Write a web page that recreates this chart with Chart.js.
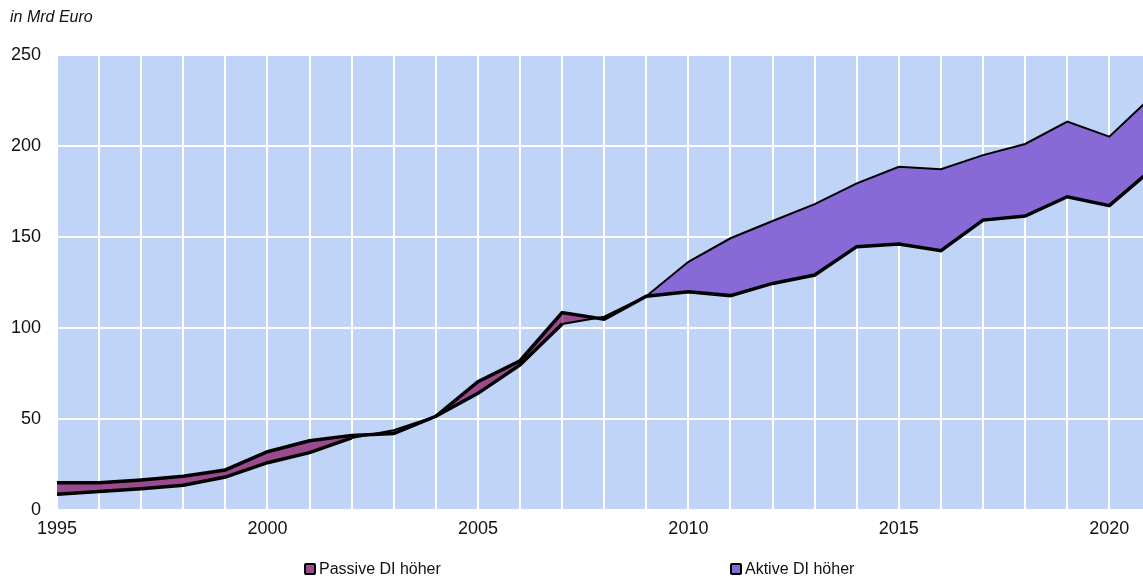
<!DOCTYPE html>
<html>
<head>
<meta charset="utf-8">
<script src="https://cdn.jsdelivr.net/npm/chart.js@4/dist/chart.umd.min.js"></script>
<style>
  body { margin: 0; background: #fff; font-family: "Liberation Sans", Arial, sans-serif; }
  #wrap { position: relative; width: 1143px; height: 578px; }
  #title { position: absolute; left: 10px; top: 8px; font-size: 16px; font-style: italic; color: #111; }
  .leg { position: absolute; top: 560px; font-size: 16px; color: #111; display: flex; align-items: center; }
  .leg span.box { display: inline-block; width: 8px; height: 8px; border: 2px solid #000; border-radius: 2px; margin-right: 3px; }
</style>
</head>
<body>
<div id="wrap">
  <canvas id="chart" width="1143" height="578"></canvas>
  <div id="title">in Mrd Euro</div>
  <div class="leg" style="left:304px"><span class="box" style="background:#9c4a8e"></span>Passive DI höher</div>
  <div class="leg" style="left:730px"><span class="box" style="background:#876ad6"></span>Aktive DI höher</div>
</div>
<script>
// Daten (Mrd Euro)
const years = [1995, 1996, 1997, 1998, 1999, 2000, 2001, 2002, 2003, 2004, 2005, 2006, 2007, 2008,
  2009, 2010, 2011, 2012, 2013, 2014, 2015, 2016, 2017, 2018, 2019, 2020, 2021];
const passiveDI = [15, 15, 16.5, 18.5, 22, 32, 38, 41, 42, 51.5, 70.5, 82, 108.5, 104.8,
  117.5, 119.9, 117.8, 124.5, 129.1, 144.7, 146.2, 142.5, 159.3, 161.5, 172.1, 167.2, 187];
const aktiveDI = [8.6, 10.1, 11.7, 13.6, 18.1, 26, 31.5, 39.6, 43.8, 51.5, 64.1, 79.7, 102.2, 106.2,
  117.5, 136.4, 149.3, 158.8, 168.1, 179.5, 188.6, 187.2, 195, 201.1, 213.4, 205.1, 227];
const yTicks = [0, 50, 100, 150, 200, 250];
const xLabelYears = [1995, 2000, 2005, 2010, 2015, 2020];

const MAGENTA = "#9c4a8e";
const VIOLET = "#876ad6";

// Hintergrund der Zeichenfläche
const plotBg = {
  id: "plotBg",
  beforeDraw(chart) {
    const { ctx, chartArea: a } = chart;
    ctx.save();
    ctx.fillStyle = "#c0d4f8";
    ctx.fillRect(a.left, a.top, a.right - a.left, a.bottom - a.top);
    ctx.restore();
  }
};

// Aktive-Linie dick, solange Passive höher ist
function aktivWidth(ctx) {
  const i = ctx.p0DataIndex, j = ctx.p1DataIndex;
  return passiveDI[i] >= aktiveDI[i] && passiveDI[j] >= aktiveDI[j] ? 3.5 : 2;
}

new Chart(document.getElementById("chart"), {
  type: "line",
  data: {
    datasets: [
      {
        label: "Passive DI",
        data: years.map((y, i) => ({ x: y, y: passiveDI[i] })),
        borderColor: "#000",
        borderWidth: 3.5,
        pointRadius: 0,
        tension: 0,
        fill: { target: 1, above: MAGENTA, below: VIOLET }
      },
      {
        label: "Aktive DI",
        data: years.map((y, i) => ({ x: y, y: aktiveDI[i] })),
        borderColor: "#000",
        borderWidth: 2,
        segment: { borderWidth: aktivWidth },
        pointRadius: 0,
        tension: 0,
        fill: false
      }
    ]
  },
  options: {
    responsive: false,
    animation: false,
    layout: { padding: { top: 55, right: 0, left: 0, bottom: 0 } },
    plugins: {
      legend: { display: false },
      tooltip: { enabled: false },
      filler: { drawTime: "beforeDatasetsDraw" }
    },
    scales: {
      x: {
        type: "linear",
        min: 1995,
        max: 2020.8,
        afterBuildTicks: axis => {
          axis.ticks = years.filter(y => y <= 2020).map(v => ({ value: v }));
        },
        afterFit: s => { s.height = 68; },
        grid: { color: "#fff", lineWidth: 2, drawTicks: false },
        border: { display: false },
        ticks: {
          color: "#111",
          font: { family: "Liberation Sans", size: 18 },
          padding: 8,
          maxRotation: 0,
          autoSkip: false,
          callback: v => xLabelYears.includes(v) ? String(v) : ""
        }
      },
      y: {
        min: 0,
        max: 250,
        afterBuildTicks: axis => {
          axis.ticks = yTicks.map(v => ({ value: v }));
        },
        afterFit: s => { s.width = 57; },
        grid: { color: "#fff", lineWidth: 2, drawTicks: false },
        border: { display: false },
        ticks: {
          color: "#111",
          font: { family: "Liberation Sans", size: 18 },
          padding: 16
        }
      }
    }
  },
  plugins: [plotBg]
});
</script>
</body>
</html>
